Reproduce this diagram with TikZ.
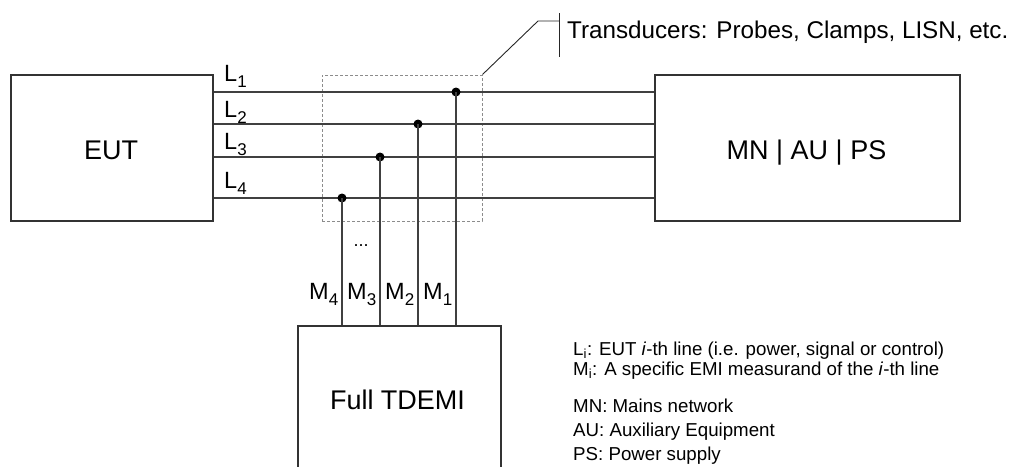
\documentclass[tikz,border=0pt]{standalone}
\usepackage{fontspec}
\setmainfont{Liberation Sans}
\newcommand\mysub[1]{\raisebox{-6pt}{\fontsize{17}{17}\selectfont #1}}
\begin{document}
\begin{tikzpicture}[x=1pt,y=-1pt,
  box/.style={draw=black!80, line width=1.2pt, inner sep=0pt},
  wire/.style={draw=black!75, line width=1.2pt},
  dashbox/.style={draw=black!45, line width=1pt, dash pattern=on 3pt off 2pt, inner sep=0pt},
  big/.style={font=\fontsize{27}{32}\selectfont},
  lab/.style={font=\fontsize{23.5}{27}\selectfont, inner sep=0pt},
  leg/.style={font=\fontsize{18.7}{22}\selectfont, inner sep=0pt, anchor=base west},
  dot/.style={circle, fill=black, inner sep=0pt, minimum size=9pt}]
\useasboundingbox (0,0) rectangle (1011,466);
\clip (0,0) rectangle (1011,466);

% boxes
\node[box, minimum width=202pt, minimum height=146pt] (eut) at (112,148) {};
\node[big, anchor=base] (eutt) at (111,159) {EUT};
\node[box, minimum width=305pt, minimum height=146pt] (mn) at (807.5,148) {};
\node[big, anchor=base] (mnt) at (806.5,159) {MN | AU | PS};
\node[box, minimum width=203pt, minimum height=150pt] (tdemi) at (399.5,401) {};
\node[big, anchor=base] (tdemit) at (397.5,409) {Full TDEMI};
\node[dashbox, minimum width=160pt, minimum height=146pt] (trans) at (402,148) {};

% lines
\foreach \i/\y/\x/\ly in {1/92/456/81, 2/124/418/117, 3/157/380/149, 4/198/342/188} {
  \coordinate (a\i) at (eut.east |- 0,\y);
  \coordinate (b\i) at (mn.west |- 0,\y);
  \draw[wire] (a\i) -- (b\i);
  \node[dot] (d\i) at (\x,\y) {};
  \draw[wire] (d\i.center) -- (d\i.center |- tdemi.north);
  \node[lab, anchor=base west] (l\i) at (224,\ly) {L\mysub{\i}};
}

% M labels
\node[lab, anchor=base west] (m4) at (309,299) {M\mysub{4}};
\node[lab, anchor=base west] (m3) at (347,299) {M\mysub{3}};
\node[lab, anchor=base west] (m2) at (385,299) {M\mysub{2}};
\node[lab, anchor=base west] (m1) at (423,299) {M\mysub{1}};
\node[lab, font=\fontsize{18}{20}\selectfont] (dots) at (361,246) {...};

% leader
\coordinate (k1) at (538,21);
\coordinate (k2) at (559,21);
\coordinate (v1) at (559,13);
\coordinate (v2) at (559,57);
\draw[line width=0.9pt, black!85] (trans.north east) -- (k1) -- (k2);
\draw[line width=0.9pt, black!85] (v1) -- (v2);
\node[lab, anchor=base west, font=\fontsize{24.2}{27}\selectfont] (tt) at (567,38) {Transducers: Probes, Clamps, LISN, etc.};

% legend
\node[leg] (g1) at (573,355) {L\textsubscript{i}: EUT \textit{i}-th line (i.e. power, signal or control)};
\node[leg] (g2) at (573,375) {M\textsubscript{i}: A specific EMI measurand of the \textit{i}-th line};
\node[leg] (g3) at (573,412) {MN: Mains network};
\node[leg] (g4) at (573,436) {AU: Auxiliary Equipment};
\node[leg] (g5) at (573,460) {PS: Power supply};
\end{tikzpicture}
\end{document}
